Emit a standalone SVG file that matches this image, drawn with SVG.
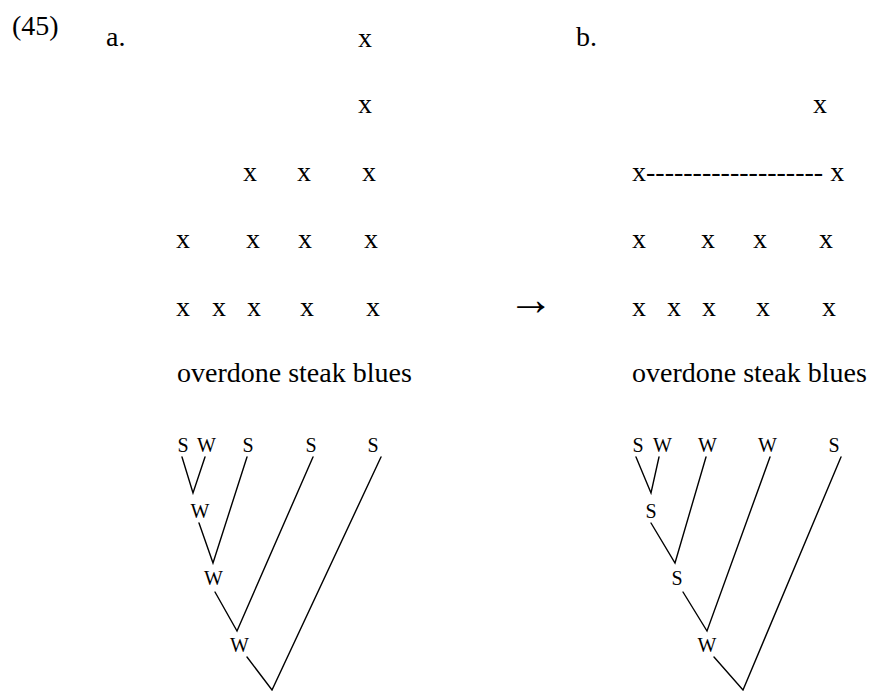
<svg xmlns="http://www.w3.org/2000/svg" width="881" height="691" viewBox="0 0 881 691">
<style>
text{font-family:"Liberation Serif","Times New Roman",serif;fill:#000}
.g{font-size:28px}
.n{font-size:20px;text-anchor:middle}
.e{stroke:#000;stroke-width:1.4;fill:none;stroke-linecap:round}
</style>
<rect width="881" height="691" fill="#fff"/>
<g id="labels" class="g">
<text x="12" y="35">(45)</text>
<text x="106" y="46">a.</text>
<text x="576" y="46">b.</text>
<text x="508" y="315" style="font-size:46px">→</text>
</g>
<g id="grid-a" class="g">
<text x="358" y="47">x</text>
<text x="358" y="113">x</text>
<text x="243" y="181">x</text><text x="297" y="181">x</text><text x="362" y="181">x</text>
<text x="176" y="248">x</text><text x="246" y="248">x</text><text x="298" y="248">x</text><text x="364" y="248">x</text>
<text x="176" y="316">x</text><text x="212" y="316">x</text><text x="247" y="316">x</text><text x="300" y="316">x</text><text x="366" y="316">x</text>
<text x="177" y="382">overdone steak blues</text>
</g>
<g id="grid-b" class="g">
<text x="813" y="113">x</text>
<text x="632" y="181">x------------------- x</text>
<text x="632" y="248">x</text><text x="701" y="248">x</text><text x="753" y="248">x</text><text x="819" y="248">x</text>
<text x="632" y="316">x</text><text x="667" y="316">x</text><text x="702" y="316">x</text><text x="756" y="316">x</text><text x="822" y="316">x</text>
<text x="632" y="382">overdone steak blues</text>
</g>
<g id="tree-a">
<g id="tree-a-nodes" class="n">
<text x="183" y="452">S</text><text x="206.5" y="452">W</text><text x="248" y="452">S</text><text x="311" y="452">S</text><text x="373" y="452">S</text>
<text x="200" y="518">W</text><text x="213.5" y="585">W</text><text x="239.5" y="652">W</text>
</g>
</g>
<g id="tree-b">
<g id="tree-b-nodes" class="n">
<text x="638" y="452">S</text><text x="662.5" y="452">W</text><text x="707.5" y="452">W</text><text x="767.5" y="452">W</text><text x="834" y="452">S</text>
<text x="651" y="518">S</text><text x="677" y="585">S</text><text x="707" y="652">W</text>
</g>
</g>
<g id="connectors" class="e">
<path d="M182 457 L193 493 L205 457"/>
<path d="M199 523 L213 563 L247 457"/>
<path d="M215 592 L237 631 L313 457"/>
<path d="M247 657 L272 690 L381 457"/>
<path d="M636 457 L651 493 L659 457"/>
<path d="M651 523 L675 563 L706 457"/>
<path d="M683 592 L707 631 L770 457"/>
<path d="M714 657 L743 690 L841 457"/>
</g>
</svg>
